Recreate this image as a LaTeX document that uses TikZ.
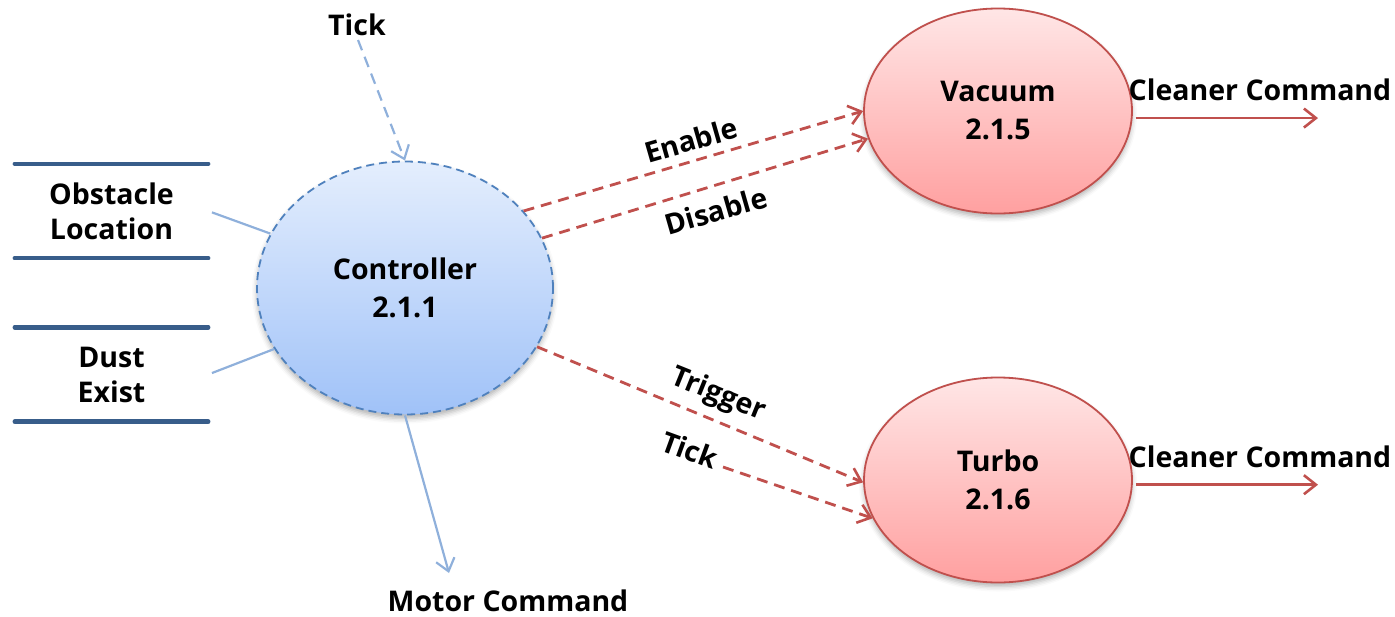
\documentclass[tikz,border=0pt]{standalone}
\usepackage{fontspec}
\setmainfont{Open Sans}
\usetikzlibrary{arrows.meta,shapes.geometric,shadows.blur}

\definecolor{storeblue}{RGB}{56,93,138}
\definecolor{flowblue}{RGB}{143,176,219}
\definecolor{edgeblue}{RGB}{79,129,189}
\definecolor{ctrltop}{RGB}{228,238,253}
\definecolor{ctrlbot}{RGB}{160,194,248}
\definecolor{flowred}{RGB}{192,80,77}
\definecolor{redtop}{RGB}{255,230,230}
\definecolor{redbot}{RGB}{255,160,160}

\begin{document}
\begin{tikzpicture}[x=1pt,y=-1pt,
  txt/.style={font=\fontsize{28.5}{38}\selectfont\bfseries, align=center, inner sep=0pt},
  softshadow/.style={blur shadow={shadow xshift=0pt, shadow yshift=-4pt,
      shadow blur radius=5pt, shadow opacity=30}},
  ctrlproc/.style={ellipse, txt, minimum width=296pt, minimum height=253pt,
      shading=axis, top color=ctrltop, bottom color=ctrlbot, softshadow,
      draw=edgeblue, line width=1.8pt, dash pattern=on 8pt off 5pt},
  redproc/.style={ellipse, txt, minimum width=268pt, minimum height=205pt,
      shading=axis, top color=redtop, bottom color=redbot, softshadow,
      draw=flowred, line width=1.8pt},
  datastore/.style={txt, minimum width=193pt, minimum height=94pt,
      font=\fontsize{28.5}{35}\selectfont\bfseries},
  storeedge/.style={draw=storeblue, line width=4.5pt, line cap=round},
  feed/.style={draw=flowblue, line width=2.2pt},
  bluearrow/.style={feed, -{Straight Barb[length=12pt,width=19pt]}},
  redarrow/.style={draw=flowred, line width=2.8pt, dash pattern=on 11pt off 7pt,
      -{Straight Barb[length=12pt,width=19pt,line width=2.6pt]}},
  solidred/.style={draw=flowred, line width=2.6pt,
      -{Straight Barb[length=12pt,width=19pt]}}
]
\useasboundingbox (0,0) rectangle (1395,616);

% processes
\node[ctrlproc] (ctrl) at (405,288) {Controller\\2.1.1};
\node[redproc] (vac) at (998,111) {Vacuum\\2.1.5};
\node[redproc] (tur) at (998,480) {Turbo\\2.1.6};

% data stores
\node[datastore] (obst) at (111.5,211) {Obstacle\\Location};
\node[datastore] (dust) at (111.5,374.5) {Dust\\Exist};
\foreach \s in {obst,dust}{
  \draw[storeedge] (\s.north west) -- (\s.north east);
  \draw[storeedge] (\s.south west) -- (\s.south east);
}

% free ends and outside labels
\node[txt] (tickin) at (357,25) {Tick};
\coordinate (tickfrom) at (358,40);
\node[txt] (motor) at (508,601) {Motor Command};
\coordinate (motorend) at (449,573);
\coordinate (turbotick) at (723,467);
\coordinate (vacout) at (1318,117);
\coordinate (turout) at (1318,484);
\node[txt] (vaclbl) at (1260,90) {Cleaner Command};
\node[txt] (turlbl) at (1260,457) {Cleaner Command};

% controller inputs and outputs
\draw[feed, shorten <=4pt] (obst.east) -- (ctrl.158);
\draw[feed, shorten <=4pt] (dust.east) -- (ctrl.205);
\draw[bluearrow, dash pattern=on 11pt off 7pt] (tickfrom) -- (ctrl.north);
\draw[bluearrow] (ctrl.south) -- (motorend);

% controller to vacuum and turbo
\draw[redarrow] (ctrl.33.7) -- (vac.180);
\draw[redarrow] (ctrl.20.7) -- (vac.192);
\draw[redarrow] (ctrl.-24) -- (tur.181);
\draw[redarrow] (turbotick) -- (tur.197);

% cleaner commands
\draw[solidred, shorten <=3pt] (vac.-3) -- (vac.-3 -| vacout);
\draw[solidred, shorten <=3pt] (tur.-2) -- (tur.-2 -| turout);

% flow labels
\node[txt, rotate=16] (enlbl) at (691,140) {Enable};
\node[txt, rotate=16] (dislbl) at (716,211) {Disable};
\node[txt, rotate=-22] (trglbl) at (718,395) {Trigger};
\node[txt, rotate=-20] (ticklbl) at (690,450) {Tick};
\end{tikzpicture}
\end{document}
